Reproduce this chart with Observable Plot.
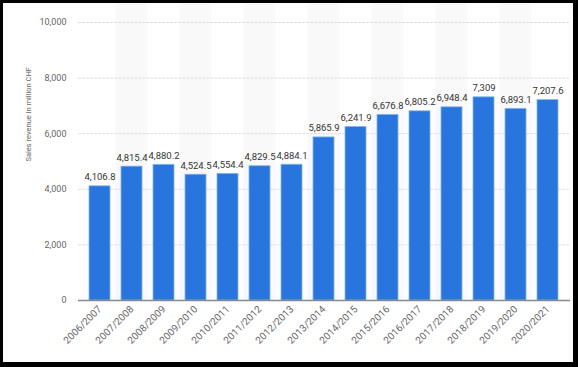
<!DOCTYPE html>
<html>
<head>
<meta charset="utf-8">
<script src="https://cdn.jsdelivr.net/npm/d3@7"></script>
<script src="https://cdn.jsdelivr.net/npm/@observablehq/plot@0.6"></script>
<style>
  html, body { margin: 0; padding: 0; background: #fff; }
  #wrap { position: relative; width: 578px; height: 367px; overflow: hidden; }
  #frame { position: absolute; left: 0; top: 0; width: 578px; height: 367px; box-sizing: border-box;
           border-style: solid; border-color: #000; border-width: 3px 5px 5px 3px; pointer-events: none; }
  svg { display: block; }
</style>
</head>
<body>
<div id="wrap"><div id="frame"></div></div>
<script>
const years = ["2006/2007","2007/2008","2008/2009","2009/2010","2010/2011","2011/2012","2012/2013","2013/2014","2014/2015","2015/2016","2016/2017","2017/2018","2018/2019","2019/2020","2020/2021"];
const revenue = [4106.8, 4815.4, 4880.2, 4524.5, 4554.4, 4829.5, 4884.1, 5865.9, 6241.9, 6676.8, 6805.2, 6948.4, 7309, 6893.1, 7207.6];
const yTicks = [0, 2000, 4000, 6000, 8000, 10000];
const yLabel = "Sales revenue in million CHF";

const data = years.map((y, i) => ({year: y, value: revenue[i]}));
const shaded = years.filter((y, i) => i % 2 === 1);
const fmt = d3.format(",");

const chart = Plot.plot({
  width: 578,
  height: 367,
  marginLeft: 78,
  marginRight: 8,
  marginTop: 22,
  marginBottom: 67,
  style: {fontFamily: "Roboto, sans-serif", fontSize: "9px", color: "#666", background: "transparent"},
  x: {domain: years, padding: 0.33, label: null},
  y: {domain: [0, 10000], label: null},
  marks: [
    Plot.barY(shaded, {x: d => d, y1: 0, y2: 10800, fill: "#f9f9f9", insetLeft: -5.4, insetRight: -5.4, clip: false}),
    Plot.gridY(yTicks, {stroke: "#d6d6d6", strokeOpacity: 1, strokeDasharray: "3,1", strokeWidth: 0.8}),
    Plot.axisY(yTicks, {tickSize: 0, tickPadding: 12, tickFormat: fmt, fill: "#666", fontSize: 9, label: null}),
    Plot.axisX({tickSize: 0, tickPadding: 7, tickRotate: -45, fill: "#666", fontSize: 10, label: null}),
    Plot.barY(data, {x: "year", y: "value", fill: "#2876dd", stroke: "#86b2ee", strokeWidth: 0.8}),
    Plot.ruleY([0], {stroke: "#888", strokeWidth: 1.6}),
    Plot.text(data, {x: "year", y: "value", text: d => fmt(d.value), dy: -9, fill: "#333", fontSize: 9.5, fontWeight: "normal"}),
    Plot.text([yLabel], {frameAnchor: "left", text: d => d, rotate: -90, dx: -50, fill: "#666", fontSize: 7.5})
  ]
});
document.getElementById("wrap").insertBefore(chart, document.getElementById("frame"));
</script>
</body>
</html>
